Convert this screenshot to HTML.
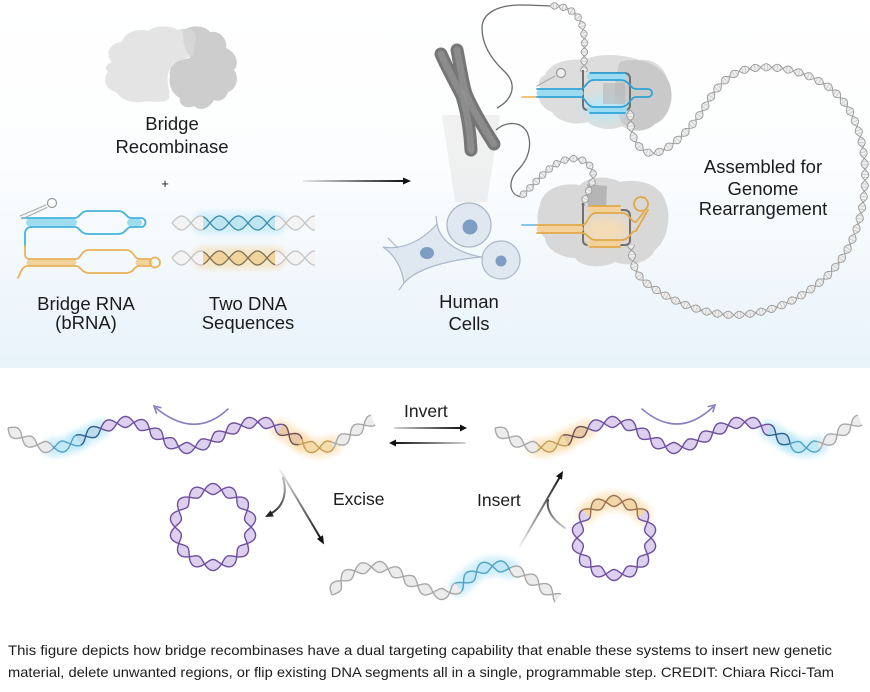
<!DOCTYPE html>
<html><head><meta charset="utf-8">
<style>
html,body{margin:0;padding:0;background:#fff;}
body{width:870px;height:692px;overflow:hidden;}
svg{display:block;}
text{font-family:"Liberation Sans",Arial,sans-serif;fill:#1c1c1c;}
</style></head>
<body>
<svg id="root" width="870" height="692" viewBox="0 0 870 692" xmlns="http://www.w3.org/2000/svg">
<defs>
<linearGradient id="bg" x1="0" y1="0" x2="0" y2="1"><stop offset="0" stop-color="#ffffff"/><stop offset=".45" stop-color="#fcfdfe"/><stop offset="1" stop-color="#e8f3fa"/></linearGradient>
<linearGradient id="gA" gradientUnits="userSpaceOnUse" x1="303" y1="181" x2="405" y2="181"><stop offset="0" stop-color="#e8e8e8"/><stop offset="1" stop-color="#111"/></linearGradient>
<linearGradient id="gR" gradientUnits="userSpaceOnUse" x1="395" y1="428" x2="462" y2="428"><stop offset="0" stop-color="#d0d0d0"/><stop offset="1" stop-color="#111"/></linearGradient>
<linearGradient id="gL" gradientUnits="userSpaceOnUse" x1="465" y1="443" x2="394" y2="443"><stop offset="0" stop-color="#d0d0d0"/><stop offset="1" stop-color="#111"/></linearGradient>
<linearGradient id="gE" gradientUnits="userSpaceOnUse" x1="280" y1="470" x2="321" y2="539"><stop offset="0" stop-color="#f0f0f0"/><stop offset="1" stop-color="#111"/></linearGradient>
<linearGradient id="gE2" gradientUnits="userSpaceOnUse" x1="282" y1="478" x2="268" y2="514"><stop offset="0" stop-color="#bbb"/><stop offset="1" stop-color="#222"/></linearGradient>
<linearGradient id="gI" gradientUnits="userSpaceOnUse" x1="520" y1="546" x2="561" y2="475"><stop offset="0" stop-color="#f0f0f0"/><stop offset="1" stop-color="#111"/></linearGradient>
<linearGradient id="gI2" gradientUnits="userSpaceOnUse" x1="565" y1="528" x2="548" y2="500"><stop offset="0" stop-color="#ccc"/><stop offset="1" stop-color="#444"/></linearGradient>
<filter id="bl" x="-20%" y="-20%" width="140%" height="140%"><feGaussianBlur stdDeviation="3"/></filter>
<filter id="bl2" x="-50%" y="-50%" width="200%" height="200%"><feGaussianBlur stdDeviation="5"/></filter>
</defs>

<rect x="0" y="0" width="870" height="368" fill="url(#bg)"/>

<path d="M112,62 C104,55 110,42 122,42 C124,32 138,28 148,31 C156,24 172,26 178,30 C186,26 196,32 194,40 L192,56 C180,60 170,64 168,74 C166,84 172,96 168,100 C160,104 150,100 142,102 C130,104 120,98 116,92 C106,90 102,78 108,72 C104,68 106,64 112,62 Z" fill="#e4e4e4"/>
<path d="M184,30 C192,24 206,26 210,32 C220,30 228,40 226,48 C236,52 240,64 234,70 C240,78 236,90 228,92 C226,100 218,102 214,100 C210,108 200,112 194,106 C186,110 178,104 180,98 C172,94 168,84 170,76 C168,66 176,60 190,58 L194,42 Z" fill="#cdcdcd"/>
<path d="M182,30 C190,26 198,32 195,42 L193,56 C188,57 186,50 184,44 Z" fill="#d6d6d6"/>

<line x1="303" y1="181" x2="405" y2="181" stroke="url(#gA)" stroke-width="2"/>
<polygon points="403,177.5 411,181 403,184.5" fill="#111"/>

<polygon points="442,115 500,115 487,202 455,202" fill="#d8d8d8" opacity="0.35"/>

<g fill="none" stroke-linecap="round">
<path d="M441,54 C447,68 455,82 462,96 C467,112 470,130 471,150" stroke="#767676" stroke-width="13"/>
<path d="M457,50 C460,65 462,80 466,94 C474,112 485,130 494,144" stroke="#767676" stroke-width="13"/>
<path d="M441,54 C447,68 455,82 462,96 C467,112 470,130 471,150" stroke="#959595" stroke-width="7" stroke-dasharray="2 3" opacity=".7"/>
<path d="M457,50 C460,65 462,80 466,94 C474,112 485,130 494,144" stroke="#959595" stroke-width="7" stroke-dasharray="2 3" opacity=".7"/>
</g>

<path d="M383,247 C400,250 420,243 437,224 C440,240 455,252 481,257 C460,259 420,265 404,283 C402,268 395,255 383,247 Z" fill="#dfe7f0" stroke="#a9b8c9" stroke-width="1.2"/>
<path d="M388,238 L398,248 M437,224 L436,216 M404,283 L399,290 M481,257 L488,258" stroke="#a9b8c9" stroke-width="1.2" fill="none"/>
<ellipse cx="427" cy="253" rx="7" ry="6" fill="#7e9dc2"/>
<circle cx="469" cy="225" r="22" fill="#dfe7f0" stroke="#a9b8c9" stroke-width="1.2"/>
<circle cx="470" cy="227" r="7.5" fill="#7e9dc2"/>
<path d="M501,241 C512,241 520,250 520,260 C520,271 511,279 501,279 C490,279 482,271 482,260 C482,250 490,241 501,241 Z" fill="#dfe7f0" stroke="#a9b8c9" stroke-width="1.2"/>
<circle cx="501" cy="261" r="5.5" fill="#7e9dc2"/>

<g fill="none" stroke="#6a6a6a" stroke-width="1.3">
<path d="M497,108 C512,100 518,85 505,72 C492,60 482,45 482,28 C482,12 500,5 520,5 C535,5 545,6 552,6"/>
<path d="M496,130 C505,122 520,120 527,132 C533,145 528,160 518,170 C508,180 508,195 522,197"/>
</g>

<path d="M545,75 C550,62 570,58 585,60 C600,52 625,55 640,60 C655,58 668,70 668,85 C675,100 668,118 655,122 C648,132 632,134 622,126 C610,132 595,128 588,122 C575,126 558,122 552,112 C540,108 536,95 540,88 C537,82 540,77 545,75 Z" fill="#dddddd"/>
<path d="M620,62 C640,56 660,64 668,80 C676,95 670,118 655,124 C645,134 628,132 620,120 C615,105 612,85 620,62 Z" fill="#c9c9c9"/>
<ellipse cx="605" cy="108" rx="22" ry="12" fill="#b8e8f8" filter="url(#bl2)" opacity=".9"/>
<rect x="603" y="83" width="22" height="21" fill="#b5b5b5" opacity=".6"/>
<path d="M540,205 C542,190 560,182 580,185 C590,175 610,176 620,182 C640,178 660,185 665,200 C672,215 668,240 655,250 C650,262 630,268 615,262 C600,270 580,266 575,258 C560,258 545,248 545,238 C536,230 536,215 540,205 Z" fill="#d8d8d8"/>
<path d="M587,184 L607,186 L606,210 L588,210 Z" fill="#b5b5b5"/>
<ellipse cx="605" cy="230" rx="24" ry="13" fill="#f6dcb2" filter="url(#bl2)" opacity=".9"/>

<g id="fb" fill="none" stroke-linecap="round">
<path id="hT1" d="M172,223 L315,223" stroke="#cfe4ec" stroke-width="12"/>
<path id="hT2" d="M172,258 L315,258" stroke="#eadcc4" stroke-width="12"/>
<path id="hE1" d="M550,6 C565,5 578,12 582,25 C586,38 584,50 584,72" stroke="#bdbdbd" stroke-width="6"/>
<path id="hE2" d="M520,197 C535,185 548,165 565,160 C582,155 595,165 593,178 C592,186 588,190 583,205" stroke="#bdbdbd" stroke-width="6"/>
<path id="hLoop" d="M630,110 L631,128 C634,145 645,155 655,153 C670,150 690,130 703,110 C712,95 720,80 740,71 C770,62 805,70 830,88 C852,105 864,135 865,170 C866,210 855,250 825,278 C800,300 770,314 735,315 C700,315 665,298 645,282 C636,274 632,265 631,245" stroke="#bdbdbd" stroke-width="7"/>
<path id="hBL" d="M8,428 C25,440 40,450 60,447 C80,444 95,425 125,422 C150,420 165,448 187,448 C210,448 230,423 257,422 C280,421 300,448 317,448 C340,448 355,428 373,420" stroke="#cdbfe4" stroke-width="10"/>
<path id="hBR" d="M495,428 C512,440 527,450 547,447 C567,444 582,425 612,422 C637,420 652,448 674,448 C697,448 717,423 744,422 C767,421 787,448 804,448 C827,448 842,428 860,420" stroke="#cdbfe4" stroke-width="10"/>
<path id="hBM" d="M332,595 C340,575 360,565 380,567 C400,569 420,593 442,594 C460,595 470,567 493,566 C515,565 540,585 558,598" stroke="#d6d6d6" stroke-width="10"/>
<path id="hCL" d="M175,527 A38,38 0 1 1 251,527 A38,38 0 1 1 175,527" stroke="#cdbfe4" stroke-width="10"/>
<path id="hCR" d="M577,538 A37,37 0 1 1 651,538 A37,37 0 1 1 577,538" stroke="#cdbfe4" stroke-width="10"/>
</g>
<g id="glow" filter="url(#bl)"></g>
<g id="hx"></g>

<g fill="none" stroke="#707070" stroke-width="2">
<path d="M583,70 L583,105 Q583,110 588,110 L625,110 Q630,110 630,105 L630,79 Q630,73 624,73 L590,73"/>
<path d="M583,203 L583,240 Q583,245 588,245 L625,245 Q630,245 630,240 L630,216 Q630,210 624,210 L590,210"/>
</g>

<g fill="none" stroke-linecap="round">
<line x1="522" y1="97" x2="537" y2="97" stroke="#f0b050" stroke-width="1.6"/>
<line x1="540" y1="93" x2="580" y2="93" stroke="#9ddcf0" stroke-width="7" stroke-dasharray="1 2"/>
<line x1="590" y1="76.5" x2="625" y2="76.5" stroke="#9ddcf0" stroke-width="6" stroke-dasharray="1 2"/>
<line x1="590" y1="110" x2="625" y2="110" stroke="#9ddcf0" stroke-width="6" stroke-dasharray="1 2"/>
<path d="M537,89 L580,89 C586,89 586,80 594,80 L620,80 C630,80 630,89 636,89 L648,89 A4,4 0 0 1 648,97 L636,97 C630,97 630,107 620,107 L594,107 C586,107 586,97 580,97 L537,97" stroke="#2fa3d6" stroke-width="1.8"/>
<path d="M590,73 L625,73 M590,113 L625,113" stroke="#2fa3d6" stroke-width="1.8"/>
<path d="M537,86 L555,76" stroke="#aaa" stroke-width="1.2"/>
<circle cx="561" cy="73" r="4.5" stroke="#999" stroke-width="1.2" fill="#eee"/>
</g>

<g fill="none" stroke-linecap="round">
<line x1="522" y1="225" x2="537" y2="225" stroke="#5ab8dc" stroke-width="1.6"/>
<line x1="540" y1="229" x2="582" y2="229" stroke="#f2d29a" stroke-width="7" stroke-dasharray="1 2"/>
<line x1="590" y1="209.5" x2="620" y2="209.5" stroke="#f2d29a" stroke-width="6" stroke-dasharray="1 2"/>
<line x1="590" y1="243.5" x2="620" y2="243.5" stroke="#f2d29a" stroke-width="6" stroke-dasharray="1 2"/>
<path d="M537,225 L582,225 C588,225 588,213 596,213 L622,213 C630,213 630,222 636,222 L644,212 M537,233 L582,233 C588,233 588,240 596,240 L622,240 C630,240 630,231 636,231 L648,210" stroke="#e3a847" stroke-width="1.8"/>
<path d="M590,206 L620,206 M590,247 L620,247" stroke="#e3a847" stroke-width="1.8"/>
<circle cx="641" cy="204" r="7" stroke="#e3a847" stroke-width="1.8"/>
</g>

<g fill="none" stroke-linecap="round">
<line x1="30" y1="222.5" x2="74" y2="222.5" stroke="#9fdcf0" stroke-width="8" stroke-dasharray="1 2"/>
<line x1="131" y1="222.5" x2="140" y2="222.5" stroke="#9fdcf0" stroke-width="8" stroke-dasharray="1 2"/>
<path d="M22,218 L75,218 C80,218 80,211 88,211 L118,211 C126,211 126,218 131,218 L141,218 A4.5,4.5 0 0 1 141,227 L131,227 C126,227 126,234 118,234 L88,234 C80,234 80,227 75,227 L32,227 Q25,227 25,234 L25,246" stroke="#46b4dc" stroke-width="1.8"/>
<line x1="30" y1="262.5" x2="75" y2="262.5" stroke="#f3d39c" stroke-width="7" stroke-dasharray="1 2"/>
<line x1="139" y1="262.5" x2="150" y2="262.5" stroke="#f3d39c" stroke-width="7" stroke-dasharray="1 2"/>
<path d="M25,246 L25,254 Q25,259 30,259 L76,259 C81,259 81,250 89,250 L126,250 C134,250 134,259 139,259 L150,259" stroke="#e9b25a" stroke-width="1.8"/>
<path d="M150,266 L139,266 C134,266 134,273 126,273 L89,273 C81,273 81,266 76,266 L28,266 C22,266 21,272 18,278" stroke="#e9b25a" stroke-width="1.8"/>
<circle cx="155" cy="262.5" r="5" stroke="#e9b25a" stroke-width="1.8"/>
<path d="M20,216 L46,205 M22,219 L47,207.5" stroke="#aaa" stroke-width="1.1"/>
<circle cx="52" cy="203" r="4.5" stroke="#999" stroke-width="1.2" fill="#fff"/>
</g>

<g font-size="18.5" text-anchor="middle">
<text x="172" y="130">Bridge</text>
<text x="172" y="153">Recombinase</text>
<text x="86" y="310">Bridge RNA</text>
<text x="86" y="329">(bRNA)</text>
<text x="248" y="310">Two DNA</text>
<text x="248" y="329">Sequences</text>
<text x="469" y="308">Human</text>
<text x="469" y="330">Cells</text>
<text x="763" y="173">Assembled for</text>
<text x="763" y="195">Genome</text>
<text x="763" y="215">Rearrangement</text>
</g>
<text x="165" y="188" font-size="13" text-anchor="middle">+</text>

<g fill="none" stroke-linecap="round">
<path d="M228,409 Q195,440 156,408" stroke="#8a7fc0" stroke-width="1.6"/>
<polyline points="160.8,407.6 154,406 156.4,413" stroke="#8a7fc0" stroke-width="1.6"/>
<path d="M642,409 Q678,440 713,407" stroke="#8a7fc0" stroke-width="1.6"/>
<polyline points="708.2,406.5 715,405 713,411.7" stroke="#8a7fc0" stroke-width="1.6"/>
<line x1="395" y1="428" x2="462" y2="428" stroke="url(#gR)" stroke-width="2"/>
<line x1="465" y1="443" x2="394" y2="443" stroke="url(#gL)" stroke-width="2"/>
<line x1="280" y1="470" x2="321" y2="539" stroke="url(#gE)" stroke-width="2"/>
<path d="M283,478 C288,495 282,508 270,514" stroke="url(#gE2)" stroke-width="2"/>
<line x1="520" y1="546" x2="561" y2="475" stroke="url(#gI)" stroke-width="2"/>
<path d="M565,528 C553,520 546,510 548,500" stroke="url(#gI2)" stroke-width="2"/>
</g>
<polygon points="460,424.5 467,428 460,431.5" fill="#111"/>
<polygon points="396,439.5 389,443 396,446.5" fill="#111"/>
<polygon points="324,544.5 317,538.9 323,535.3" fill="#111"/>
<polygon points="265,517 270.6,510.2 273.8,516.5" fill="#222"/>
<polygon points="563,471 556,476.1 562,479.7" fill="#111"/>

<g font-size="17.5">
<text x="404" y="417">Invert</text>
<text x="333" y="505">Excise</text>
<text x="477" y="506">Insert</text>
</g>

<g font-size="14">
<text x="8" y="655" textLength="824" lengthAdjust="spacingAndGlyphs">This figure depicts how bridge recombinases have a dual targeting capability that enable these systems to insert new genetic</text>
<text x="8" y="677" textLength="826" lengthAdjust="spacingAndGlyphs">material, delete unwanted regions, or flip existing DNA segments all in a single, programmable step. CREDIT: Chiara Ricci-Tam</text>
</g>
</svg>

<script>
(function(){
var NS='http://www.w3.org/2000/svg';
function el(t,a,p){var e=document.createElementNS(NS,t);for(var k in a)e.setAttribute(k,a[k]);if(p)p.appendChild(e);return e;}
var GL=document.getElementById('glow'), HX=document.getElementById('hx');
function S(stroke,fill,glow){return {stroke:stroke,fill:fill,glow:glow,k:stroke+fill+(glow||'')};}
var gray=S('#a8a8a8','#ececec'), grayL=S('#c4c4c4','#f3f3f3'),
 purple=S('#6d4f9e','#ddd0ef'),
 blue=S('#4fa3c6','#c2e8f6','#a9e2f6'), dblue=S('#2e5f8f','#bcdcee','#a9e2f6'),
 orange=S('#c59c5c','#f3dcaa','#f9d79c'), dorange=S('#6f5058','#e8caa6','#f9d79c'),
 blueT=S('#3d8cab','#bfe5f3','#b3e6f7'), orangeT=S('#7f7058','#f0d49b','#f6d9a0'),
 orangeC=S('#9a7050','#f1d6a8','#f9d79c'),
 loopS=S('#9a9a9a','#eeeeee');
function f2(v){return v.toFixed(1);}
function helix(id,amp,per,style,opt){
 opt=opt||{};
 var src=document.getElementById(id); if(!src) return;
 var L=src.getTotalLength();
 var N=Math.max(2,Math.round(L/0.8));
 var pts=[];
 for(var i=0;i<=N;i++){
  var s=L*i/N, p=src.getPointAtLength(s), pa=src.getPointAtLength(Math.max(0,s-0.8)), pb=src.getPointAtLength(Math.min(L,s+0.8));
  var tx=pb.x-pa.x, ty=pb.y-pa.y, ln=Math.sqrt(tx*tx+ty*ty)||1, nx=-ty/ln, ny=tx/ln;
  var a=amp*Math.sin(2*Math.PI*s/per+(opt.phase||0));
  pts.push({x:p.x,y:p.y,x1:p.x+nx*a,y1:p.y+ny*a,x2:p.x-nx*a,y2:p.y-ny*a,st:style(p.x,p.y,s)});
 }
 var runs=[],cur=null;
 pts.forEach(function(q){
  if(!cur||cur.st.k!==q.st.k){ if(cur) cur.pts.push(q); cur={st:q.st,pts:[q]}; runs.push(cur);} else cur.pts.push(q);
 });
 runs.forEach(function(r){
  var P=r.pts, st=r.st;
  if(st.glow){ el('polyline',{points:P.map(function(q){return f2(q.x)+','+f2(q.y);}).join(' '),fill:'none',stroke:st.glow,'stroke-width':amp*2+8,'stroke-linecap':'round',opacity:opt.glowOp||0.55},GL); }
  var poly=P.map(function(q){return f2(q.x1)+','+f2(q.y1);}).concat(P.slice().reverse().map(function(q){return f2(q.x2)+','+f2(q.y2);})).join(' ');
  el('polygon',{points:poly,fill:st.fill,stroke:'none'},HX);
  if(opt.rungs){
   var d='';
   for(var j=0;j<P.length;j+=opt.rungs){var q=P[j]; d+='M'+f2(q.x1)+','+f2(q.y1)+'L'+f2(q.x2)+','+f2(q.y2);}
   el('path',{d:d,stroke:opt.rungC||'#c4c4c4','stroke-width':0.7,fill:'none'},HX);
  }
  el('polyline',{points:P.map(function(q){return f2(q.x1)+','+f2(q.y1);}).join(' '),fill:'none',stroke:st.stroke,'stroke-width':opt.w||1.3,'stroke-linejoin':'round'},HX);
  el('polyline',{points:P.map(function(q){return f2(q.x2)+','+f2(q.y2);}).join(' '),fill:'none',stroke:st.stroke,'stroke-width':opt.w||1.3,'stroke-linejoin':'round'},HX);
 });
}
try{
helix('hT1',7,38,function(x){return (x<203||x>275)?grayL:blueT;},{w:1.3});
helix('hT2',7,38,function(x){return (x<203||x>275)?grayL:orangeT;},{w:1.3});
helix('hE1',3.3,18,function(){return loopS;},{rungs:4,w:0.9});
helix('hE2',3.3,18,function(){return loopS;},{rungs:4,w:0.9});
helix('hLoop',3.6,22,function(){return loopS;},{rungs:4,w:0.9});
helix('hBL',5.5,34,function(x){if(x<52)return gray;if(x<78)return blue;if(x<100)return dblue;if(x<280)return purple;if(x<300)return dorange;if(x<332)return orange;return gray;},{w:1.4});
helix('hBR',5.5,34,function(x){if(x<537)return gray;if(x<565)return orange;if(x<587)return dorange;if(x<768)return purple;if(x<790)return dblue;if(x<818)return blue;return gray;},{w:1.4});
helix('hBM',5.5,34,function(x){return (x>=458&&x<=510)?blue:gray;},{w:1.4});
helix('hCL',5.5,2*Math.PI*38/7,function(){return purple;},{w:1.4});
helix('hCR',5.5,2*Math.PI*37/7,function(x,y){return y<514?orangeC:purple;},{w:1.4});
document.getElementById('fb').style.display='none';
}catch(e){}
})();
</script>
</body></html>
